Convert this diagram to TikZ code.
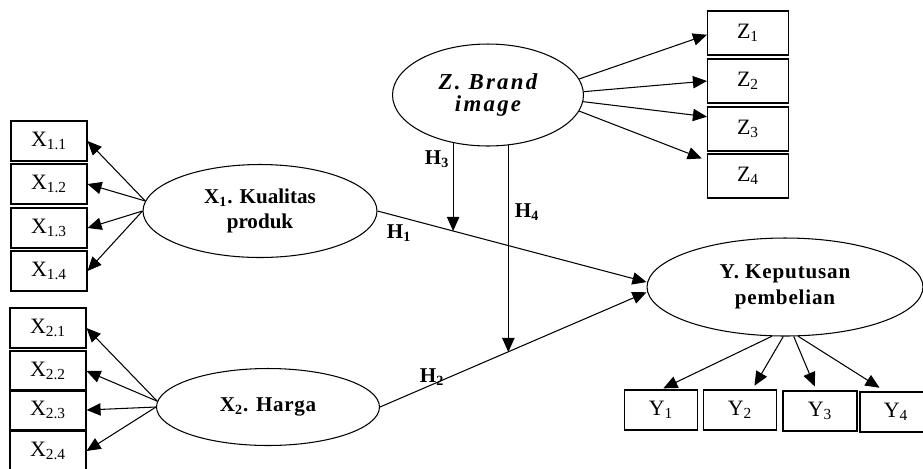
\documentclass[tikz,border=0pt]{standalone}
\usepackage{fontspec}
\setmainfont{Liberation Serif}
\usetikzlibrary{shapes.geometric,arrows.meta}
\tikzset{
	indbox/.style={rectangle, draw, line width=0.6pt, minimum width=1.52cm, minimum height=0.8cm, inner sep=0pt, font=\fontsize{12.5}{14}\selectfont},
	latent/.style={ellipse, draw, line width=0.6pt, inner sep=0pt, align=center, font=\fontsize{12}{14}\selectfont\bfseries},
	loading/.style={-{Triangle[length=8pt,width=7pt]}, line width=0.6pt},
	hlabel/.style={font=\fontsize{12}{14}\selectfont\bfseries}
}
\begin{document}
\begin{tikzpicture}[x=0.02cm,y=-0.02cm]
			\useasboundingbox (0,0) rectangle (923,468);
			% latent variables
			\node[latent, minimum width=4.68cm, minimum height=1.86cm] (x1) at (260,211) {X\textsubscript{1}. Kualitas\\produk};
			\node[latent, minimum width=4.46cm, minimum height=1.54cm, font=\fontsize{12}{14}\selectfont\bfseries\addfontfeature{LetterSpace=3}] (x2) at (268,407) {X\textsubscript{2}. Harga};
			\node[latent, minimum width=3.82cm, minimum height=2.04cm, font=\fontsize{13}{12.5}\selectfont\bfseries\itshape\addfontfeature{LetterSpace=10}] (z) at (488,95) {Z. Brand\\image};
			\node[latent, minimum width=5.52cm, minimum height=1.96cm, font=\fontsize{12}{15}\selectfont\bfseries\addfontfeature{LetterSpace=4}] (y) at (785,287) {Y. Keputusan\\pembelian};
			
			% indicators of X1
			\node[indbox] (x11) at (49,141) {X\textsubscript{1.1}};
			\node[indbox] (x12) at (49,184) {X\textsubscript{1.2}};
			\node[indbox] (x13) at (49,228) {X\textsubscript{1.3}};
			\node[indbox] (x14) at (49,271) {X\textsubscript{1.4}};
			% indicators of X2
			\node[indbox] (x21) at (48,328) {X\textsubscript{2.1}};
			\node[indbox] (x22) at (48,371) {X\textsubscript{2.2}};
			\node[indbox] (x23) at (48,410) {X\textsubscript{2.3}};
			\node[indbox] (x24) at (48,451) {X\textsubscript{2.4}};
			% indicators of Z
			\node[indbox, minimum width=1.62cm, minimum height=0.88cm] (z1) at (748,33) {Z\textsubscript{1}};
			\node[indbox, minimum width=1.62cm, minimum height=0.88cm] (z2) at (748,81) {Z\textsubscript{2}};
			\node[indbox, minimum width=1.62cm, minimum height=0.88cm] (z3) at (748,129) {Z\textsubscript{3}};
			\node[indbox, minimum width=1.62cm, minimum height=0.88cm] (z4) at (748,176) {Z\textsubscript{4}};
			% indicators of Y
			\node[indbox, minimum width=1.46cm] (y1) at (661,410) {Y\textsubscript{1}};
			\node[indbox, minimum width=1.46cm] (y2) at (740,410) {Y\textsubscript{2}};
			\node[indbox, minimum width=1.48cm] (y3) at (820,411) {Y\textsubscript{3}};
			\node[indbox, minimum width=1.44cm] (y4) at (896,412) {Y\textsubscript{4}};
			
			\draw[loading] (x1.175) -- (x11.east);
			\draw[loading] (x1.175) -- (x12.east);
			\draw[loading] (x1.west) -- (x13.east);
			\draw[loading] (x1.west) -- (x14.east);
			\draw[loading] (x2.177) -- (x21.east);
			\draw[loading] (x2.177) -- (x22.east);
			\draw[loading] (x2.west) -- (x23.east);
			\draw[loading] (x2.west) -- (x24.east);
			\draw[loading] (z.10) -- ([yshift=-1pt]z1.west);
			\draw[loading] (z.2) -- (z2.west);
			\draw[loading] (z.356) -- ([yshift=7pt]z3.west);
			\draw[loading] (z.350) -- ([xshift=-3pt,yshift=10pt]z4.west);
			\draw[loading,shorten >=1.5pt] (y.255) -- (y1.north);
			\draw[loading,shorten >=2.5pt] (y.268) -- ([xshift=7pt]y2.north);
			\draw[loading,shorten >=2.5pt] (y.280) -- ([xshift=-2pt]y3.north);
			\draw[loading,shorten >=4pt] (y.285) -- ([xshift=-6pt]y4.north);
			
			% hypotheses
			\coordinate (h3end) at (453,231);
			\coordinate (h4end) at (508,352);
			\draw[loading] (x1.east) -- ([yshift=2.8pt]y.west);
			\draw[loading] (x2.east) -- ([yshift=-3pt]y.west);
			\draw[loading] (z.234) -- (z.234 |- h3end);
			\draw[loading] (z.292) -- (z.292 |- h4end);
			\node[hlabel] (h1) at (399,233) {H\textsubscript{1}};
			\node[hlabel] (h2) at (432,377) {H\textsubscript{2}};
			\node[hlabel] (h3) at (437,159) {H\textsubscript{3}};
			\node[hlabel] (h4) at (527,212) {H\textsubscript{4}};
		\end{tikzpicture}
\end{document}
